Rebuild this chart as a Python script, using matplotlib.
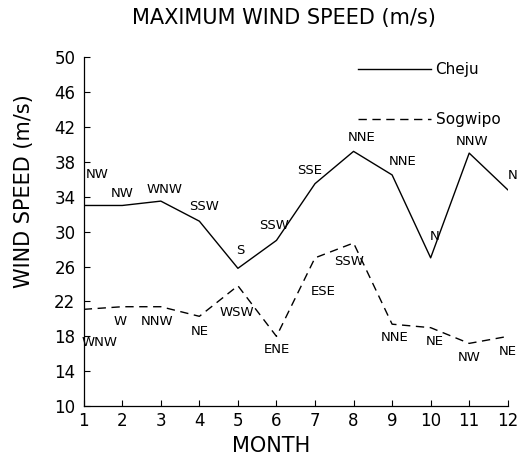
"""Maximum monthly wind speed at Cheju and Sogwipo, with prevailing direction labels."""

import matplotlib

matplotlib.use("Agg")
import matplotlib.pyplot as plt

MONTHS = list(range(1, 13))

CHEJU = [33.0, 33.0, 33.5, 31.2, 25.8, 29.0, 35.5, 39.2, 36.5, 27.0, 39.0, 34.8]
CHEJU_DIR = ["NW", "NW", "WNW", "SSW", "S", "SSW", "SSE", "NNE", "NNE", "N", "NNW", "N"]

SOGWIPO = [21.1, 21.4, 21.4, 20.3, 23.8, 18.0, 27.0, 28.7, 19.4, 19.0, 17.2, 18.0]
SOGWIPO_DIR = ["WNW", "W", "NNW", "NE", "WSW", "ENE", "ESE", "SSW", "NNE", "NE", "NW", "NE"]

YTICKS = list(range(10, 51, 4))

# label offsets from the data point, in pixels (dx, dy)
CHEJU_OFF = [(13, 31), (0, 12), (4, 12), (5, 15), (2, 18), (-2, 15),
             (-5, 13), (8, 14), (11, 13), (4, 21), (3, 12), (5, 14)]
SOGWIPO_OFF = [(16, -33), (-2, -15), (-4, -15), (0, -15), (-1, -27), (0, -13),
               (8, -34), (-4, -18), (3, -13), (4, -14), (0, -14), (0, -15)]


def main() -> None:
    plt.rcParams.update({"font.family": "DejaVu Sans"})
    fig = plt.figure(figsize=(5.30, 4.68), dpi=100)
    ax = fig.add_axes([0.158, 0.132, 0.800, 0.746])

    ax.plot(MONTHS, CHEJU, color="black", lw=1.0, label="Cheju")
    ax.plot(MONTHS, SOGWIPO, color="black", lw=1.0, ls=(0, (6, 4)), label="Sogwipo")

    for m, v, t, off in zip(MONTHS, CHEJU, CHEJU_DIR, CHEJU_OFF):
        ax.annotate(t, (m, v), xytext=off, textcoords="offset pixels",
                    ha="center", va="center", fontsize=9.5)
    for m, v, t, off in zip(MONTHS, SOGWIPO, SOGWIPO_DIR, SOGWIPO_OFF):
        ax.annotate(t, (m, v), xytext=off, textcoords="offset pixels",
                    ha="center", va="center", fontsize=9.5)

    ax.set_xlim(1, 12)
    ax.set_ylim(10, 50)
    ax.set_xticks(MONTHS)
    ax.set_yticks(YTICKS)
    ax.tick_params(direction="in", length=4, width=0.8, labelsize=12, pad=6)
    ax.tick_params(axis="x", pad=4)
    for s in ("top", "right"):
        ax.spines[s].set_visible(False)
    for s in ("left", "bottom"):
        ax.spines[s].set_linewidth(0.9)

    ax.set_xlabel("MONTH", fontsize=15)
    ax.xaxis.set_label_coords(0.443, -0.085)
    ax.set_ylabel("WIND SPEED (m/s)", fontsize=15)
    ax.yaxis.set_label_coords(-0.118, 0.616)

    fig.text(0.536, 0.962, "MAXIMUM WIND SPEED (m/s)", ha="center", va="center",
             fontsize=15)

    ax.legend(loc="upper left", bbox_to_anchor=(0.646, 0.985), frameon=False,
              fontsize=11, handlelength=4.8, handletextpad=0.3, labelspacing=2.3,
              borderpad=0, borderaxespad=0)

    fig.savefig("out.png", dpi=100)


if __name__ == "__main__":
    main()
